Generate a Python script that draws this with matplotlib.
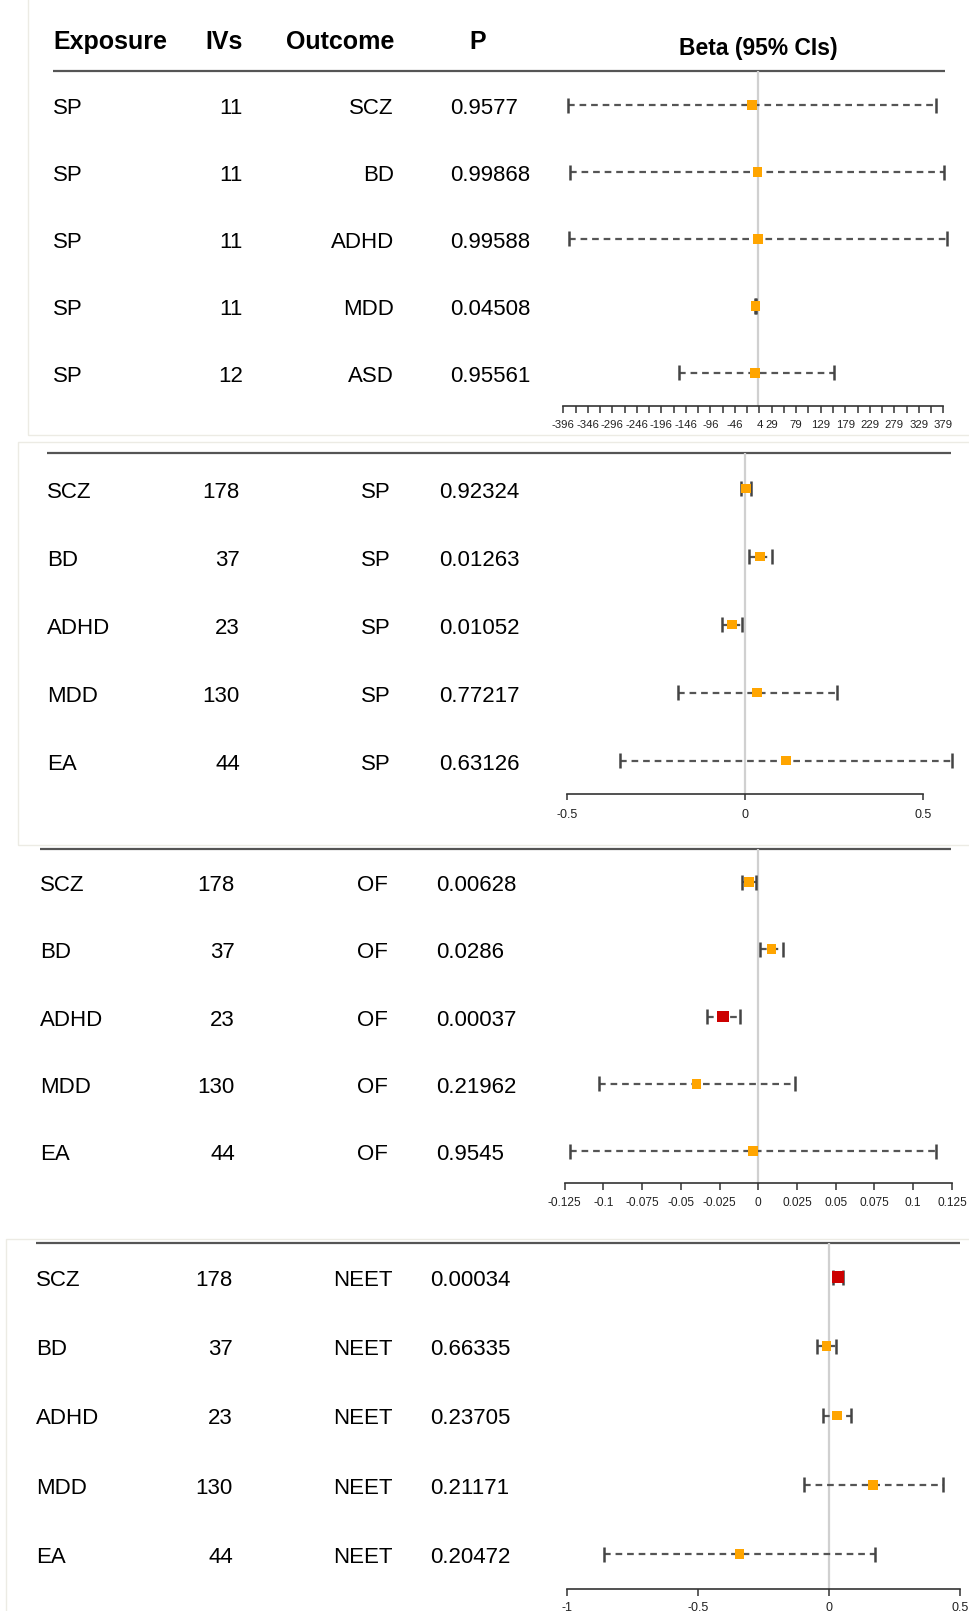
import numpy as np
import matplotlib.pyplot as plt
from matplotlib.patches import Rectangle

plt.rcParams['font.family'] = ['Liberation Sans', 'DejaVu Sans']

W, H, DPI = 969, 1611, 100
ORANGE = "#FFA500"
RED = "#CC0000"
P_RED = 0.001  # boxes drawn red below this p

# ----------------- Data -----------------
# Panel 1: SP -> psychiatric disorders
P1_EXPOSURE = ["SP", "SP", "SP", "SP", "SP"]
P1_IVS = [11, 11, 11, 11, 12]
P1_OUTCOME = ["SCZ", "BD", "ADHD", "MDD", "ASD"]
P1_P = ["0.9577", "0.99868", "0.99588", "0.04508", "0.95561"]
P1_BETA = [-10.8, 0.0, 1.0, -4.0, -5.3]
P1_LO = [-386, -382, -384, -5.5, -160]
P1_HI = [364, 381, 386, -2.5, 157]
P1_TICKS = list(range(-396, 380, 25))
P1_TICKLABELS = [-396, -346, -296, -246, -196, -146, -96, -46, 4,
                 29, 79, 129, 179, 229, 279, 329, 379]

# Panel 2: disorders -> SP
P2_EXPOSURE = ["SCZ", "BD", "ADHD", "MDD", "EA"]
P2_IVS = [178, 37, 23, 130, 44]
P2_OUTCOME = ["SP", "SP", "SP", "SP", "SP"]
P2_P = ["0.92324", "0.01263", "0.01052", "0.77217", "0.63126"]
P2_BETA = [0.002, 0.043, -0.037, 0.034, 0.115]
P2_LO = [-0.011, 0.011, -0.065, -0.189, -0.351]
P2_HI = [0.016, 0.075, -0.009, 0.258, 0.582]
P2_TICKS = [-0.5, 0, 0.5]
P2_TICKLABELS = [-0.5, 0, 0.5]

# Panel 3: disorders -> OF
P3_EXPOSURE = ["SCZ", "BD", "ADHD", "MDD", "EA"]
P3_IVS = [178, 37, 23, 130, 44]
P3_OUTCOME = ["OF", "OF", "OF", "OF", "OF"]
P3_P = ["0.00628", "0.0286", "0.00037", "0.21962", "0.9545"]
P3_BETA = [-0.0062, 0.0086, -0.023, -0.0398, -0.0036]
P3_LO = [-0.0105, 0.0011, -0.0329, -0.103, -0.1216]
P3_HI = [-0.0015, 0.0161, -0.0118, 0.0237, 0.1147]
P3_TICKS = [-0.125, -0.1, -0.075, -0.05, -0.025, 0, 0.025, 0.05, 0.075, 0.1, 0.125]
P3_TICKLABELS = P3_TICKS

# Panel 4: disorders -> NEET
P4_EXPOSURE = ["SCZ", "BD", "ADHD", "MDD", "EA"]
P4_IVS = [178, 37, 23, 130, 44]
P4_OUTCOME = ["NEET", "NEET", "NEET", "NEET", "NEET"]
P4_P = ["0.00034", "0.66335", "0.23705", "0.21171", "0.20472"]
P4_BETA = [0.034, -0.008, 0.032, 0.170, -0.341]
P4_LO = [0.015, -0.044, -0.021, -0.095, -0.858]
P4_HI = [0.055, 0.027, 0.084, 0.437, 0.177]
P4_TICKS = [-1, -0.5, 0, 0.5]
P4_TICKLABELS = P4_TICKS

# ----------------- Layout (pixels in the 969x1611 canvas) -----------------
LAYOUT = [
    dict(span=(0, 437), row0=105, dy=67, line=71, lx=(53, 945), axis=406,
         zero=757.5, scale=0.4903, cols=(53, 243, 394, 450),
         tlen=5.2, tpad=4.6, tsize=8.2),
    dict(span=(437, 830), row0=488.5, dy=68, line=453, lx=(47, 951), axis=794,
         zero=745, scale=355.6, cols=(47, 240, 391, 439),
         tlen=4.5, tpad=6.2, tsize=9),
    dict(span=(830, 1225), row0=882, dy=67.25, line=849, lx=(40, 951), axis=1183,
         zero=758.3, scale=1549, cols=(40, 235, 388, 436),
         tlen=5, tpad=5.4, tsize=8.6),
    dict(span=(1225, 1611), row0=1277, dy=69.25, line=1243, lx=(36, 960), axis=1589,
         zero=828.7, scale=262, cols=(36, 233, 393, 430),
         tlen=5, tpad=4.2, tsize=9),
]

FOREST_X0 = 540
TEXT_DROP = 3.5  # px, visual centring of the table text on the row


def draw_panel(fig, exposure, ivs, outcome, pvals, beta, lo, hi,
               ticks, ticklabels, lay, header=False):
    top, bottom = lay["span"]
    y0, dy = lay["row0"], lay["dy"]
    to_row = lambda px: (px - y0) / dy
    ylim = (to_row(bottom), to_row(top))
    rect_y = 1 - bottom / H
    rect_h = (bottom - top) / H

    # table part
    tab = fig.add_axes([0, rect_y, 1, rect_h])
    tab.set_xlim(0, W)
    tab.set_ylim(*ylim)
    tab.axis("off")
    rows = np.arange(len(exposure))
    cx_exp, cx_iv, cx_out, cx_p = lay["cols"]
    drop = TEXT_DROP / dy
    for i in rows:
        ty = i + drop
        tab.text(cx_exp, ty, exposure[i], ha="left", va="center", fontsize=16)
        tab.text(cx_iv, ty, str(ivs[i]), ha="right", va="center", fontsize=16)
        tab.text(cx_out, ty, outcome[i], ha="right", va="center", fontsize=16)
        tab.text(cx_p, ty, pvals[i], ha="left", va="center", fontsize=16)
    line_row = to_row(lay["line"])
    tab.hlines(line_row, *lay["lx"], color="#555555", lw=1.6)

    if header:
        hy = to_row(42)
        tab.text(cx_exp, hy, "Exposure", ha="left", va="center", fontsize=18, fontweight="bold")
        tab.text(cx_iv, hy, "IVs", ha="right", va="center", fontsize=18, fontweight="bold")
        tab.text(cx_out, hy, "Outcome", ha="right", va="center", fontsize=18, fontweight="bold")
        tab.text(478, hy, "P", ha="center", va="center", fontsize=18, fontweight="bold")
        tab.text(758, to_row(48), "Beta (95% CIs)", ha="center", va="center",
                 fontsize=16.5, fontweight="bold")

    # forest part
    zero, scale = lay["zero"], lay["scale"]
    fax = fig.add_axes([FOREST_X0 / W, rect_y, (W - FOREST_X0) / W, rect_h])
    fax.patch.set_alpha(0)
    fax.set_xlim((FOREST_X0 - zero) / scale, (W - zero) / scale)
    fax.set_ylim(*ylim)
    for side in ["top", "left", "right"]:
        fax.spines[side].set_visible(False)
    axis_row = to_row(lay["axis"])
    fax.spines["bottom"].set_position(("data", axis_row))
    fax.spines["bottom"].set_bounds(ticks[0], ticks[-1])
    fax.spines["bottom"].set_color("#333333")
    fax.spines["bottom"].set_linewidth(1.2)
    fax.set_yticks([])
    fax.set_xticks(ticks)
    fax.set_xticklabels([f"{t:g}" if t in ticklabels else "" for t in ticks])
    fax.tick_params(axis="x", direction="out", length=lay["tlen"], width=1.1,
                    color="#333333", pad=lay["tpad"], labelsize=lay["tsize"],
                    labelcolor="#222222")

    fax.vlines(0, line_row, axis_row, color="#d0d0d0", lw=1.6, zorder=1)

    lo = np.array(lo, dtype=float)
    hi = np.array(hi, dtype=float)
    cap = 7.5 / dy
    fax.hlines(rows, lo, hi, colors="#555555", linestyles=(0, (3.0, 2.2)), lw=1.6, zorder=2)
    fax.vlines(lo, rows - cap, rows + cap, colors="#444444", lw=1.8, zorder=2)
    fax.vlines(hi, rows - cap, rows + cap, colors="#444444", lw=1.8, zorder=2)
    pnum = np.array([float(p) for p in pvals])
    colors = [RED if p < P_RED else ORANGE for p in pnum]
    sizes = [72 if p < P_RED else 48 for p in pnum]
    fax.scatter(beta, rows, marker="s", s=sizes, c=colors, linewidths=0, zorder=3)


fig = plt.figure(figsize=(W / DPI, H / DPI), dpi=DPI)

# faint borders of the stacked screenshots
for (x0, y0_, x1, y1) in [(28, -2, 971, 435), (18, 442, 971, 845), (6, 1239, 971, 1613)]:
    fig.add_artist(Rectangle((x0 / W, 1 - y1 / H), (x1 - x0) / W, (y1 - y0_) / H,
                             transform=fig.transFigure, fill=False, ec="#ecebe4", lw=1))

draw_panel(fig, P1_EXPOSURE, P1_IVS, P1_OUTCOME, P1_P, P1_BETA, P1_LO, P1_HI,
           P1_TICKS, P1_TICKLABELS, LAYOUT[0], header=True)
draw_panel(fig, P2_EXPOSURE, P2_IVS, P2_OUTCOME, P2_P, P2_BETA, P2_LO, P2_HI,
           P2_TICKS, P2_TICKLABELS, LAYOUT[1])
draw_panel(fig, P3_EXPOSURE, P3_IVS, P3_OUTCOME, P3_P, P3_BETA, P3_LO, P3_HI,
           P3_TICKS, P3_TICKLABELS, LAYOUT[2])
draw_panel(fig, P4_EXPOSURE, P4_IVS, P4_OUTCOME, P4_P, P4_BETA, P4_LO, P4_HI,
           P4_TICKS, P4_TICKLABELS, LAYOUT[3])

fig.savefig("out.png", dpi=DPI)
